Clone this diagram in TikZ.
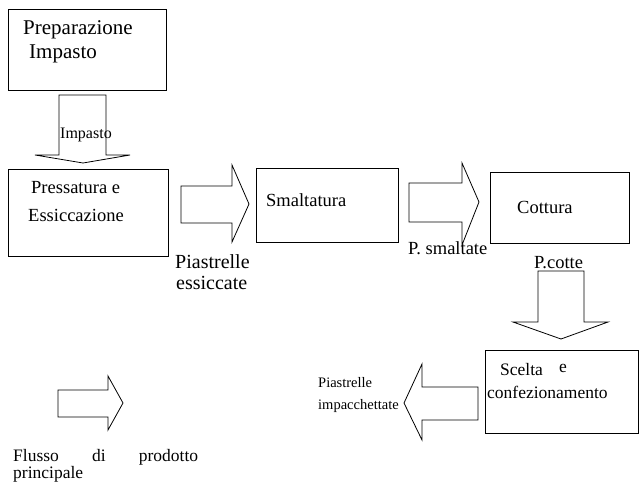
\documentclass[tikz,border=0pt]{standalone}
\usepackage{fontspec}
\setmainfont{Liberation Serif}
\begin{document}
\begin{tikzpicture}[x=1pt,y=-1pt,
  box/.style={draw,line width=0.8pt,inner sep=0pt,anchor=north west},
  barrow/.style={draw,line width=0.8pt,line join=miter},
  lbl/.style={anchor=base west,inner sep=0pt},
  fA/.style={font=\fontsize{18.5}{22}\selectfont},
  fB/.style={font=\fontsize{14.5}{17}\selectfont}]
\useasboundingbox (0,0) rectangle (639,483);
% boxes
\node[box,minimum width=158pt,minimum height=81pt] (prep) at (8,9) {};
\node[box,minimum width=160pt,minimum height=87pt] (press) at (8,169) {};
\node[box,minimum width=142pt,minimum height=74pt] (smalt) at (256,168) {};
\node[box,minimum width=139pt,minimum height=71pt] (cott) at (490,172) {};
\node[box,minimum width=153pt,minimum height=83pt] (scelta) at (485,350) {};
% block arrows
\draw[barrow] (59,95) -- (106,95) -- (106,155) -- (130,155) -- (83,163) -- (35,155) -- (59,155) -- cycle;
\draw[barrow] (181,186) -- (232,186) -- (232,165) -- (249,204) -- (232,242) -- (232,223) -- (181,223) -- cycle;
\draw[barrow] (409,183) -- (462,183) -- (462,163) -- (479,202) -- (462,245) -- (462,222) -- (409,222) -- cycle;
\draw[barrow] (538,271) -- (584,271) -- (584,322) -- (608,322) -- (561,339) -- (513,322) -- (538,322) -- cycle;
\draw[barrow] (478,387) -- (422,387) -- (422,364) -- (404,403) -- (422,440) -- (422,420) -- (478,420) -- cycle;
\draw[barrow] (58,390) -- (108,390) -- (108,376) -- (123,403) -- (108,430) -- (108,417) -- (58,417) -- cycle;
% texts
\node[lbl,font=\fontsize{21}{24}\selectfont] (t1) at (23,34) {Preparazione};
\node[lbl,font=\fontsize{21}{24}\selectfont] (t2) at (29,58) {Impasto};
\node[lbl,font=\fontsize{16}{18}\selectfont] (t3) at (60,138) {Impasto};
\node[lbl,fA] (t4) at (31,193) {Pressatura e};
\node[lbl,fA] (t5) at (28,221) {Essiccazione};
\node[lbl,font=\fontsize{20}{24}\selectfont] (t6) at (175,268) {Piastrelle};
\node[lbl,font=\fontsize{20}{24}\selectfont] (t7) at (176,289) {essiccate};
\node[lbl,fA] (t8) at (266,206) {Smaltatura};
\node[lbl,fA] (t9) at (517,213) {Cottura};
\node[lbl,fA] (t10) at (408,254) {P. smaltate};
\node[lbl,fA] (t11) at (534,268) {P.cotte};
\node[lbl,fB] (t12) at (318,387) {Piastrelle};
\node[lbl,fB] (t13) at (318,409) {impacchettate};
\node[lbl,font=\fontsize{17.5}{20}\selectfont] (t14) at (500,375) {Scelta};
\node[lbl,font=\fontsize{17.5}{20}\selectfont] (t15) at (559,372) {e};
\node[lbl,font=\fontsize{17.5}{20}\selectfont] (t16) at (487,398) {confezionamento};
\node[anchor=north west,inner sep=0pt,align=left,font=\fontsize{17.5}{17}\selectfont] (leg) at (13,449) {\hbox to 185pt{Flusso\hfill di\hfill prodotto}\\principale};
\end{tikzpicture}
\end{document}
